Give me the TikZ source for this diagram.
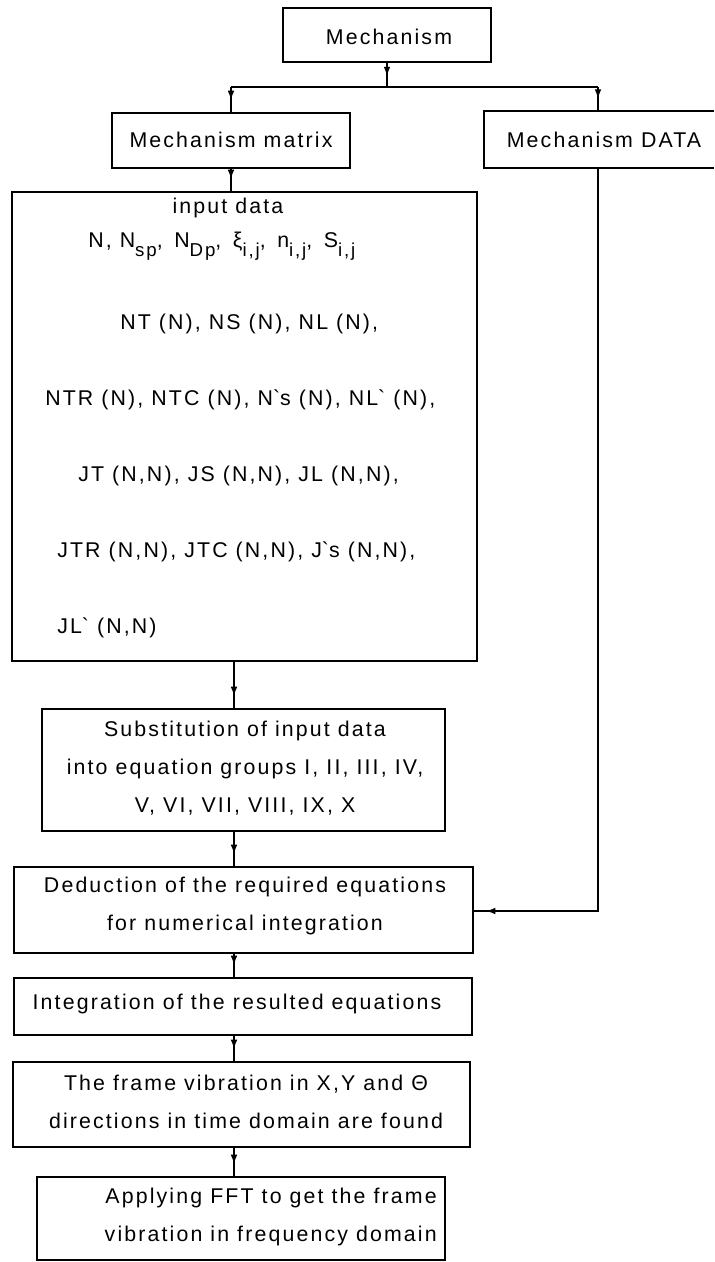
\documentclass[tikz,border=0pt]{standalone}
\usepackage{fontspec}
\setmainfont{Liberation Sans}[LetterSpace=10]
\usetikzlibrary{arrows.meta,decorations.markings,fit}
% lowered index in the same face
\newcommand\lo[1]{\raisebox{-0.8ex}{\fontsize{14}{14}\selectfont #1}}
\begin{document}
\begin{tikzpicture}[x=0.75pt,y=-0.75pt,
  box/.style={draw,line width=1.4pt,inner sep=0pt},
  boxline/.style={line width=1.4pt},
  txt/.style={font=\fontsize{16}{28.5}\selectfont,inner sep=0pt,align=center},
  conn/.style={line width=1.1pt},
  tipnear/.style={postaction={decorate},decoration={markings,
    mark=at position -9pt with {\arrow{Latex[length=7pt,width=5pt]}}}},
  tipmid/.style={postaction={decorate},decoration={markings,
    mark=at position 0.55 with {\arrow{Latex[length=7pt,width=5pt]}}}}]
\useasboundingbox (0,0) rectangle (714,1262);

% boxes
\node[box,fit={(283,8)(491,62)}] (mech) {};
\node[txt] (mecht) at (389,37) {Mechanism};

\node[box,fit={(112,113)(350,168)}] (mm) {};
\node[txt] (mmt) at (231,140) {Mechanism matrix};

\node[fit={(484,111)(714,168)},inner sep=0pt] (data) {};
\draw[boxline] (data.north east) -- (data.north west) -- (data.south west) -- (data.south east);
\node[txt] (datat) at (604,140) {Mechanism DATA};

\node[box,fit={(12,192)(477,661)}] (inp) {};
\node[txt] (in0) at (228,208) {input data};
\node[txt,anchor=west] (in1) at (88,246) {N, N\lo{sp}, \,N\lo{Dp}, \,ξ\lo{i,j}, \,n\lo{i,j}, \,S\lo{i,j}};
\node[txt,anchor=west] (in2) at (120,324) {NT (N), NS (N), NL (N),};
\node[txt,anchor=west] (in3) at (45,400) {NTR (N), NTC (N), N\textasciigrave{}s (N), NL\textasciigrave{} (N),};
\node[txt,anchor=west] (in4) at (78,476) {JT (N,N), JS (N,N), JL (N,N),};
\node[txt,anchor=west] (in5) at (57,552) {JTR (N,N), JTC (N,N), J\textasciigrave{}s (N,N),};
\node[txt,anchor=west] (in6) at (57,628) {JL\textasciigrave{} (N,N)};

\node[box,fit={(42,709)(445,831)}] (sub) {};
\node[txt] (subt) at (245,768) {Substitution of input data\\into equation groups I, II, III, IV,\\V, VI, VII, VIII, IX, X};

\node[box,fit={(14,867)(473,953)}] (ded) {};
\node[txt] (dedt) at (245,906) {Deduction of the required equations\\for numerical integration};

\node[box,fit={(14,978)(472,1035)}] (int) {};
\node[txt] (intt) at (237,1004) {Integration of the resulted equations};

\node[box,fit={(13,1062)(470,1147)}] (frm) {};
\node[txt] (frmt) at (246,1102) {The frame vibration in X,Y and Θ\\directions in time domain are found};

\node[box,fit={(37,1177)(445,1260)}] (fft) {};
\node[txt,align=right,anchor=east] (fftt) at (437,1217) {Applying FFT to get the frame\\vibration in frequency domain};

% connectors
\coordinate (j) at (387,87);
\coordinate (jl) at (231,87);
\coordinate (jr) at (598,87);
\coordinate (col) at (234,0);
\coordinate (dd) at (598,911);

\draw[conn,tipmid] (mech.south) -- (j);
\draw[conn] (jl) -- (jr);
\draw[conn,tipnear] (jl) -- (jl |- mm.north);
\draw[conn,tipnear] (jr) -- (jr |- data.north);
\draw[conn,tipnear] (mm.south) -- (mm.south |- inp.north);
\draw[conn,tipnear] (col |- inp.south) -- (col |- sub.north);
\draw[conn,tipnear] (col |- sub.south) -- (col |- ded.north);
\draw[conn,tipnear] (col |- ded.south) -- (col |- int.north);
\draw[conn,tipnear] (col |- int.south) -- (col |- frm.north);
\draw[conn,tipnear] (col |- frm.south) -- (col |- fft.north);
\draw[conn,tipnear] (jr |- data.south) -- (dd) -- (dd -| ded.east);
\end{tikzpicture}
\end{document}
